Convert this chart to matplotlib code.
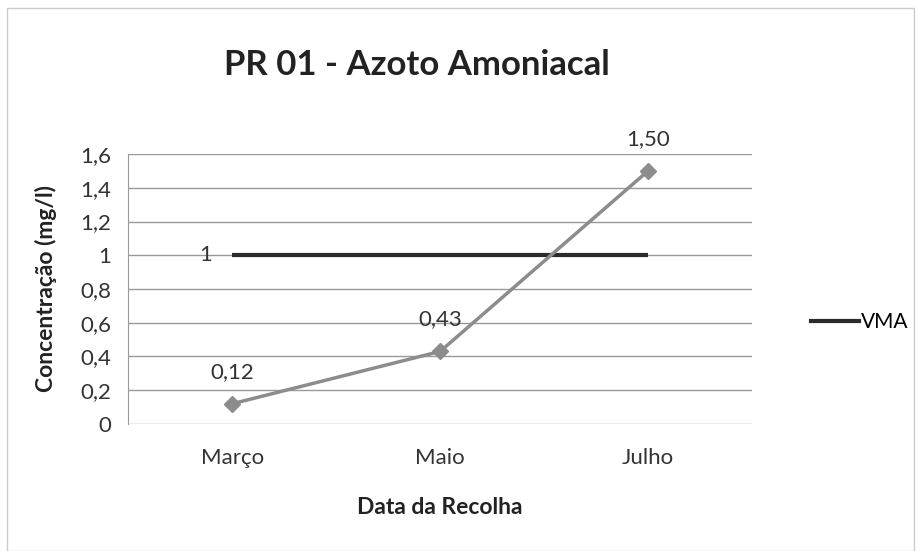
import matplotlib.pyplot as plt
from matplotlib.patches import Rectangle
from matplotlib.lines import Line2D

plt.rcParams['font.family'] = ['Lato', 'DejaVu Sans']

meses = ["Março", "Maio", "Julho"]
concentracao = [0.12, 0.43, 1.50]
rotulos = ["0,12", "0,43", "1,50"]
vma = [1, 1, 1]
y_ticks = [0, 0.2, 0.4, 0.6, 0.8, 1, 1.2, 1.4, 1.6]
y_labels = ["0", "0,2", "0,4", "0,6", "0,8", "1", "1,2", "1,4", "1,6"]

fig = plt.figure(figsize=(9.16, 5.51), dpi=100)
ax = fig.add_axes([0.14, 0.2305, 0.681, 0.49])

x = list(range(len(meses)))

for t in y_ticks:
    ax.axhline(t, color="#999999", linewidth=1, zorder=1)

ax.plot(x, vma, color="#2b2b2b", linewidth=3, solid_capstyle="butt", zorder=3)
ax.text(x[0] - 0.13, vma[0], "1", ha="center", va="center", fontsize=16, color="#333333")

ax.plot(x, concentracao, color="#8c8c8c", linewidth=2.5, marker="D", markersize=8,
        markerfacecolor="#8c8c8c", markeredgecolor="#8c8c8c", zorder=4)
for xi, yi, lab in zip(x, concentracao, rotulos):
    ax.text(xi, yi + 0.19, lab, ha="center", va="center", fontsize=16, color="#333333")

ax.set_xlim(-0.5, 2.5)
ax.set_ylim(0, 1.6)
ax.set_xticks(x)
ax.set_xticklabels(meses)
ax.set_yticks(y_ticks)
ax.set_yticklabels(y_labels)
ax.tick_params(axis="both", length=0, labelsize=16, colors="#333333")
ax.tick_params(axis="x", pad=17)
ax.tick_params(axis="y", pad=12)
for s in ["top", "right", "bottom"]:
    ax.spines[s].set_visible(False)
ax.spines["left"].set_color("#999999")

ax.set_xlabel("Data da Recolha", fontsize=16.5, fontweight="bold", color="#222222", va="top")
ax.xaxis.set_label_coords(0.5, -0.27)
ax.set_ylabel("Concentração (mg/l)", fontsize=16.5, fontweight="bold", color="#222222")
ax.yaxis.set_label_coords(-0.114, 0.5)

fig.text(0.455, 0.864, "PR 01 - Azoto Amoniacal", ha="center", va="baseline",
         fontsize=25, fontweight="bold", color="#222222")

leg = [Line2D([0], [0], color="#2b2b2b", linewidth=3)]
fig.legend(leg, ["VMA"], loc="center left", bbox_to_anchor=(0.865, 0.415), frameon=False,
           fontsize=15, handlelength=2.3, handletextpad=0.1)

fig.patches.append(Rectangle((0.008, 0.0), 0.99, 0.985, transform=fig.transFigure,
                             fill=False, edgecolor="#cccccc", linewidth=1))

fig.savefig("out.png", dpi=100)
